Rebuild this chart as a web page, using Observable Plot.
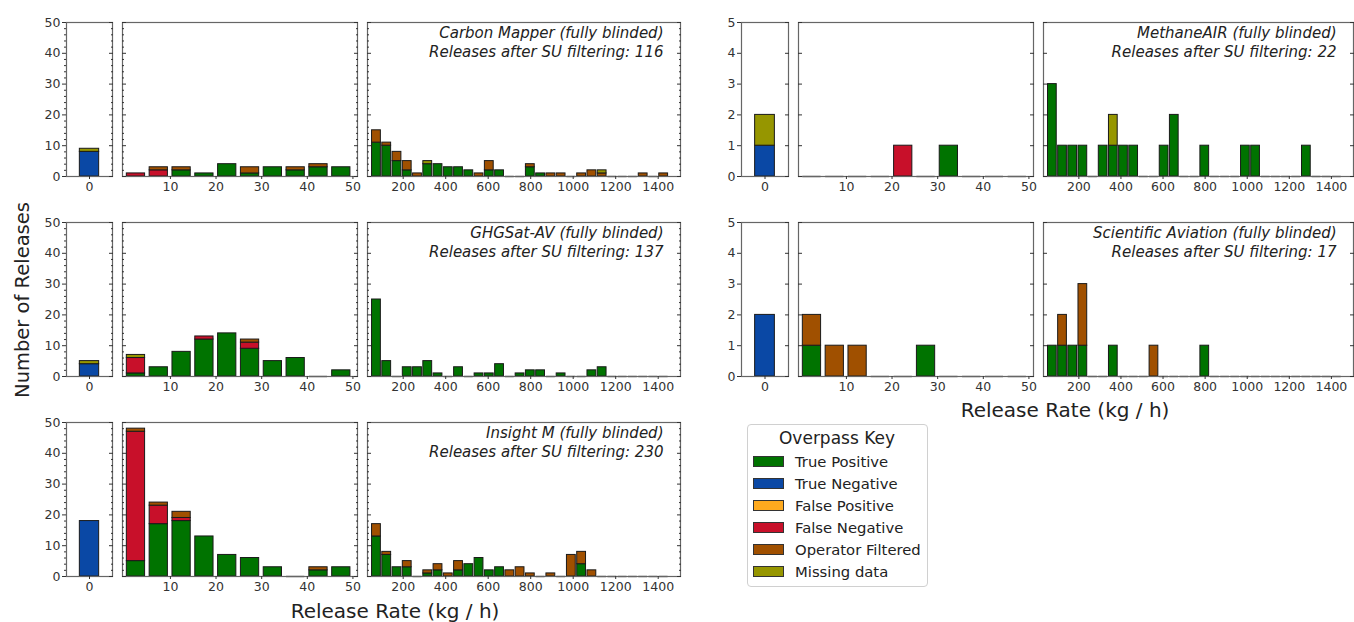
<!DOCTYPE html>
<html><head><meta charset="utf-8">
<script src="https://cdn.jsdelivr.net/npm/d3@7"></script>
<script src="https://cdn.jsdelivr.net/npm/@observablehq/plot@0.6"></script>
<style>
body{margin:0;background:#fff;}
#root{position:relative;width:1354px;height:622px;overflow:hidden;font-family:"DejaVu Sans",sans-serif;color:#222;}
.abs{position:absolute;white-space:nowrap;}
</style>
</head><body><div id="root"></div>
<script>
// ---------- data ----------
const categories = ["True Positive","True Negative","False Positive","False Negative","Operator Filtered","Missing data"];
const categoryKeys = ["TP","TN","FP","FN","OF","MD"];
const categoryColors = ["#007300","#0a48a5","#ffaa1e","#c8102a","#a05000","#969600"];

const instruments = ["Carbon Mapper","GHGSat-AV","Insight M","MethaneAIR","Scientific Aviation"];
const releasesAfterFiltering = [116,137,230,22,17];

const lowBinStarts = [0,5,10,15,20,25,30,35,40,45];
const highRange = [50,1450];
const highBinCount = 29;
const zeroTicks = [0];
const lowTicks = [10,20,30,40,50];
const highTicks = [200,400,600,800,1000,1200,1400];
const leftYTicks = [0,10,20,30,40,50];
const leftYMinor = [2,4,6,8,12,14,16,18,22,24,26,28,32,34,36,38,42,44,46,48];
const rightYTicks = [0,1,2,3,4,5];

const carbonMapperZero = {TN:[8], MD:[1]};
const carbonMapperLow = {TP:[0,0,2,1,4,1,3,2,3,3], FN:[1,2,0,0,0,0,0,0,0,0], OF:[0,1,1,0,0,2,0,1,1,0]};
const carbonMapperHigh = {
  TP:[11,10,5,2,0,4,4,3,3,2, 0,2,2,0,0,3,1,0,0,0, 0,0,0,0,0,0,0,0,0],
  OF:[4,1,3,3,1,0,0,0,0,0, 1,3,0,0,0,1,0,1,1,0, 1,2,1,0,0,0,1,0,1],
  MD:[0,0,0,0,0,1,0,0,0,0, 0,0,0,0,0,0,0,0,0,0, 0,0,1,0,0,0,0,0,0]};

const ghgsatZero = {TN:[4], MD:[1]};
const ghgsatLow = {TP:[1,3,8,12,14,9,5,6,0,2], FN:[5,0,0,1,0,2,0,0,0,0], OF:[0,0,0,0,0,1,0,0,0,0], MD:[1,0,0,0,0,0,0,0,0,0]};
const ghgsatHigh = {
  TP:[25,5,0,3,3,5,1,0,3,0, 1,1,4,0,1,2,2,0,1,0, 0,2,3,0,0,0,0,0,0]};

const insightZero = {TN:[18]};
const insightLow = {TP:[5,17,18,13,7,6,3,0,2,3], FN:[42,6,1,0,0,0,0,0,0,0], OF:[1,1,2,0,0,0,0,0,1,0]};
const insightHigh = {
  TP:[13,7,3,3,0,1,2,0,2,4, 6,2,3,0,0,0,0,0,0,0, 4,0,0,0,0,0,0,0,0],
  OF:[4,1,0,2,0,1,2,1,3,0, 0,0,0,2,3,1,0,1,0,7, 4,2,0,0,0,0,0,0,0]};

const methaneAirZero = {TN:[1], MD:[1]};
const methaneAirLow = {TP:[0,0,0,0,0,0,1,0,0,0], FN:[0,0,0,0,1,0,0,0,0,0]};
const methaneAirHigh = {
  TP:[3,1,1,1,0,1,1,1,1,0, 0,1,2,0,0,1,0,0,0,1, 1,0,0,0,0,1,0,0,0],
  MD:[0,0,0,0,0,0,1,0,0,0, 0,0,0,0,0,0,0,0,0,0, 0,0,0,0,0,0,0,0,0]};

const sciAvZero = {TN:[2]};
const sciAvLow = {TP:[1,0,0,0,0,1,0,0,0,0], OF:[1,1,1,0,0,0,0,0,0,0]};
const sciAvHigh = {
  TP:[1,1,1,1,0,0,1,0,0,0, 0,0,0,0,0,1,0,0,0,0, 0,0,0,0,0,0,0,0,0],
  OF:[0,1,0,2,0,0,0,0,0,0, 1,0,0,0,0,0,0,0,0,0, 0,0,0,0,0,0,0,0,0]};

// ---------- helpers ----------
const root = document.getElementById("root");
function stack(data, n, x1f, x2f) {
  const rows = [], empties = [];
  for (let i = 0; i < n; i++) {
    let acc = 0;
    for (const k of categoryKeys) {
      const v = data[k] ? data[k][i] : 0;
      if (v > 0) { rows.push({x1:x1f(i), x2:x2f(i), y1:acc, y2:acc+v, key:k}); acc += v; }
    }
    if (acc === 0) empties.push({x1:x1f(i), x2:x2f(i)});
  }
  return {rows, empties};
}
const hw = (highRange[1]-highRange[0])/highBinCount;
const kinds = {
  zero: {domain:[-1,1], ticks:zeroTicks, n:1, x1:()=>-0.42, x2:()=>0.42},
  low:  {domain:[-0.5,51], ticks:lowTicks, n:lowBinStarts.length, x1:i=>lowBinStarts[i]+0.45, x2:i=>lowBinStarts[i]+4.45},
  high: {domain:[32,1505], ticks:highTicks, n:highBinCount, x1:i=>highRange[0]+hw*i+hw*0.07, x2:i=>highRange[0]+hw*i+hw*0.93}
};
const plain = d => String(d);
const blank = () => "";

function drawPanel(kind, data, left, top, w, h, yDomain, yTicks, yMinor, note) {
  const K = kinds[kind];
  const {rows, empties} = stack(data, K.n, K.x1, K.x2);
  const labelsLeft = kind === "zero";
  const ml = labelsLeft ? 40 : 6, mr = 6, mt = 4, mb = 24;
  const marks = [
    Plot.ruleY(empties, {y:0, x1:"x1", x2:"x2", stroke:"#444", strokeWidth:1.4}),
    Plot.rect(rows, {x1:"x1", x2:"x2", y1:"y1", y2:"y2", fill:"key", stroke:"#1a1a1a", strokeWidth:1}),
    Plot.frame({stroke:"#666", strokeWidth:1.2}),
    Plot.axisX({ticks:K.ticks, tickSize:3, tickPadding:3, tickFormat:plain, label:null, fontSize:12.5}),
    Plot.axisY({ticks:yTicks, anchor:"right", tickSize:-4, tickFormat:blank, label:null}),
  ];
  if (yMinor) marks.push(Plot.axisY({ticks:yMinor, anchor:"right", tickSize:-2, tickFormat:blank, label:null}));
  if (labelsLeft) {
    marks.push(Plot.axisY({ticks:yTicks, anchor:"left", tickSize:4, tickPadding:2, tickFormat:plain, label:null, fontSize:12.5}));
    if (yMinor) marks.push(Plot.axisY({ticks:yMinor, anchor:"left", tickSize:2, tickFormat:blank, label:null}));
  } else {
    marks.push(Plot.axisY({ticks:yTicks, anchor:"left", tickSize:-4, tickFormat:blank, label:null}));
    if (yMinor) marks.push(Plot.axisY({ticks:yMinor, anchor:"left", tickSize:-2, tickFormat:blank, label:null}));
  }
  if (note) marks.push(Plot.text([note], {text:d=>d, frameAnchor:"top-right", textAnchor:"end", lineAnchor:"top",
    dx:-17, dy:2, fontStyle:"italic", fontSize:15, lineHeight:1.27, fill:"#222"}));
  const svg = Plot.plot({
    width:w+ml+mr, height:h+mt+mb, marginLeft:ml, marginRight:mr, marginTop:mt, marginBottom:mb,
    x:{domain:K.domain}, y:{domain:yDomain},
    color:{domain:categoryKeys, range:categoryColors},
    style:{fontFamily:"DejaVu Sans", fontSize:"12.5px", color:"#333", background:"transparent", overflow:"visible"},
    marks
  });
  svg.style.position = "absolute";
  svg.style.left = (left-ml)+"px";
  svg.style.top = (top-mt)+"px";
  root.appendChild(svg);
}

const leftCols = {zero:[66,46], low:[122,235], high:[367,313]};
const rightCols = {zero:[741,47], low:[798,235], high:[1043,310]};
const panelH = 154;
const groups = [
  {cols:leftCols, top:22, zero:carbonMapperZero, low:carbonMapperLow, high:carbonMapperHigh, idx:0, y:[0,50], t:leftYTicks, m:leftYMinor},
  {cols:leftCols, top:222, zero:ghgsatZero, low:ghgsatLow, high:ghgsatHigh, idx:1, y:[0,50], t:leftYTicks, m:leftYMinor},
  {cols:leftCols, top:422, zero:insightZero, low:insightLow, high:insightHigh, idx:2, y:[0,50], t:leftYTicks, m:leftYMinor},
  {cols:rightCols, top:22, zero:methaneAirZero, low:methaneAirLow, high:methaneAirHigh, idx:3, y:[0,5], t:rightYTicks, m:null},
  {cols:rightCols, top:222, zero:sciAvZero, low:sciAvLow, high:sciAvHigh, idx:4, y:[0,5], t:rightYTicks, m:null},
];
for (const g of groups) {
  for (const kind of ["zero","low","high"]) {
    const [l, w] = g.cols[kind];
    const note = kind === "high" ? `${instruments[g.idx]} (fully blinded)\nReleases after SU filtering: ${releasesAfterFiltering[g.idx]}` : null;
    drawPanel(kind, g[kind], l, g.top, w, panelH, g.y, g.t, g.m, note);
  }
}

// ---------- axis titles ----------
function addText(txt, css) { const d = document.createElement("div"); d.className = "abs"; d.textContent = txt; Object.assign(d.style, css); root.appendChild(d); return d; }
addText("Number of Releases", {left:"22px", top:"300px", fontSize:"19.5px", transform:"translate(-50%,-50%) rotate(-90deg)", color:"#222"});
addText("Release Rate (kg / h)", {left:"395px", top:"611px", fontSize:"20px", transform:"translate(-50%,-50%)", color:"#222"});
addText("Release Rate (kg / h)", {left:"1065px", top:"410px", fontSize:"20px", transform:"translate(-50%,-50%)", color:"#222"});

// ---------- legend ----------
const lg = document.createElement("div");
Object.assign(lg.style, {position:"absolute", left:"747px", top:"424px", width:"181px", height:"163px", border:"1px solid #d0d0d0", borderRadius:"4px", boxSizing:"border-box", background:"#fff"});
root.appendChild(lg);
addText("Overpass Key", {left:"837px", top:"438px", fontSize:"17px", transform:"translate(-50%,-50%)", color:"#222"});
categories.forEach((c, i) => {
  const cy = 461 + i*22;
  const sw = document.createElement("div");
  Object.assign(sw.style, {position:"absolute", left:"753px", top:(cy-5.5)+"px", width:"31px", height:"11px", background:categoryColors[i], border:"1px solid #333", boxSizing:"border-box"});
  root.appendChild(sw);
  addText(c, {left:"795px", top:cy+"px", fontSize:"14.8px", transform:"translateY(-50%)", color:"#222"});
});
</script></body></html>
